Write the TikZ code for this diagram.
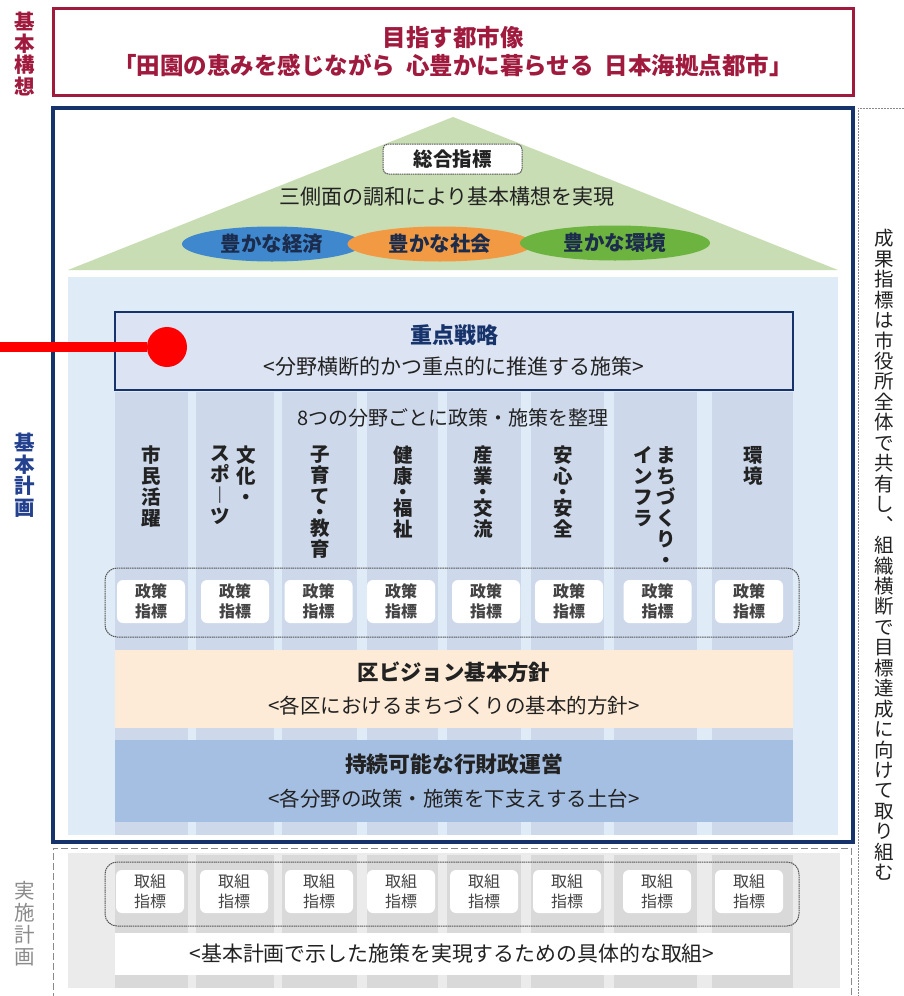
\documentclass[tikz,border=0pt]{standalone}
\usepackage{fontspec}
\setmainfont{Noto Sans CJK JP}
\usetikzlibrary{shapes.geometric}
\definecolor{crimson}{HTML}{A01A3E}
\definecolor{navy}{HTML}{17336B}
\definecolor{planblue}{HTML}{23418F}
\definecolor{bodyblue}{HTML}{DFEBF7}
\definecolor{colblue}{HTML}{CDD9EB}
\definecolor{roofgreen}{HTML}{C8DDB3}
\definecolor{focusfill}{HTML}{DCE3F2}
\definecolor{peach}{HTML}{FDEBD7}
\definecolor{midblue}{HTML}{A5BFE3}
\definecolor{ecoblue}{HTML}{3F88CE}
\definecolor{socorange}{HTML}{F29A43}
\definecolor{envgreen}{HTML}{6DB33F}
\definecolor{txt}{HTML}{222222}
\definecolor{txtgray}{HTML}{444444}
\definecolor{graybg}{HTML}{EBEBEB}
\definecolor{graystripe}{HTML}{D9D9D9}
\definecolor{dashgray}{HTML}{555555}
\definecolor{lightdash}{HTML}{8A8A8A}
\definecolor{labelgray}{HTML}{8C8C8C}
\definecolor{ellipsetxt}{HTML}{1C2C4C}
\newcommand{\vdot}{\\[-5.2pt]・\\[-5.2pt]}
\tikzset{
  vlabel/.style={align=center, inner sep=0pt, anchor=north, text=txt,
    font=\bfseries\fontsize{19.5}{21}\selectfont},
  sidelabel/.style={align=center, inner sep=0pt,
    font=\bfseries\fontsize{20.5}{21.5}\selectfont},
  indbox/.style={fill=white, rounded corners=6pt, minimum width=68pt,
    minimum height=43pt, inner sep=0pt, align=center, text=txtgray,
    font=\bfseries\fontsize{16}{20}\selectfont},
  actbox/.style={indbox, font=\fontsize{16}{20}\selectfont, text=txtgray},
  groupbox/.style={draw=dashgray, line width=1pt, dash pattern=on 1.5pt off 0.7pt,
    rounded corners=12pt, minimum width=694pt, inner sep=0pt},
  band/.style={minimum width=678pt, inner sep=0pt, align=center, text=txt},
  pillar/.style={ellipse, inner sep=0pt, minimum height=35pt, text=ellipsetxt,
    font=\bfseries\fontsize{20.5}{22}\selectfont},
}
\begin{document}
\begin{tikzpicture}[x=1pt,y=-1pt]
\useasboundingbox (0,0) rectangle (904,996);
\fill[white] (0,0) rectangle (904,996);

% ---- side labels
\node[sidelabel, text=crimson] (lvision) at (25,54) {基\\本\\構\\想};
\node[sidelabel, text=planblue] (lplan) at (25,475) {基\\本\\計\\画};
\node[sidelabel, text=labelgray, font=\fontsize{20.5}{22}\selectfont] (limpl) at (25,924) {実\\施\\計\\画};

% ---- top vision box
\node[draw=crimson, line width=3pt, minimum width=800pt, minimum height=87pt,
  align=center, text=crimson, font=\bfseries\fontsize{23.5}{28}\selectfont] (vision) at (453,51.5)
  {目指す都市像\\「田園の恵みを感じながら\hspace{0.47em}心豊かに暮らせる\hspace{0.47em}日本海拠点都市」};

% ---- right dashed area
\draw[lightdash, line width=1pt, dash pattern=on 2pt off 1pt] (858,1000) -- (858,108) -- (910,108);
\node[align=center, inner sep=0pt, text=txt, font=\fontsize{19.5}{20.45}\selectfont] (rnote) at (884,555)
  {成\\果\\指\\標\\は\\市\\役\\所\\全\\体\\で\\共\\有\\し\\︑\\組\\織\\横\\断\\で\\目\\標\\達\\成\\に\\向\\け\\て\\取\\り\\組\\む};

% ---- roof
\fill[roofgreen] (68,270) -- (453,117) -- (838,270) -- cycle;
\node[draw=dashgray, line width=1pt, dash pattern=on 1.5pt off 0.7pt, rounded corners=5pt,
  fill=white, minimum width=139pt, minimum height=30pt, inner sep=0pt, text=txt,
  font=\bfseries\fontsize{19.5}{21}\selectfont] (overall) at (452.5,159) {総合指標};
\node[text=txt, inner sep=0pt, font=\fontsize{21}{23}\selectfont] (harmony) at (447,197) {三側面の調和により基本構想を実現};
\node[pillar, fill=ecoblue, minimum width=180pt] (econ) at (272,244) {豊かな経済};
\node[pillar, fill=socorange, minimum width=185pt] (soc) at (440,244) {豊かな社会};
\node[pillar, fill=envgreen, minimum width=190pt] (env) at (615,243) {豊かな環境};

% ---- body
\fill[bodyblue] (68,277) rectangle (838,835);
\foreach \a/\b in {115/188,196/274,282/357,367/438,447/521,531/604,614/697,712/793}
  \fill[colblue] (\a,392) rectangle (\b,835);

\node[draw=navy, line width=2.8pt, fill=focusfill, band, minimum height=78pt,
  font=\fontsize{21}{31}\selectfont] (focus) at (454,351)
  {{\bfseries\fontsize{22}{31}\selectfont\color{navy}重点戦略}\\<分野横断的かつ重点的に推進する施策>};

\node[text=txt, inner sep=0pt, font=\fontsize{20}{22}\selectfont] (eight) at (453,418) {8つの分野ごとに政策・施策を整理};

\node[vlabel] (c1) at (151,446) {市\\民\\活\\躍};
\node[vlabel] (c2a) at (246,446) {文\\化\\・};
\node[vlabel] (c2b) at (220,446) {ス\\ポ\\︱\\ツ};
\node[vlabel] (c3) at (320,446) {子\\育\\て\vdot 教\\育};
\node[vlabel] (c4) at (403,446) {健\\康\vdot 福\\祉};
\node[vlabel] (c5) at (483,446) {産\\業\vdot 交\\流};
\node[vlabel] (c6) at (563,446) {安\\心\vdot 安\\全};
\node[vlabel] (c7a) at (666,446) {ま\\ち\\づ\\く\\り\\・};
\node[vlabel] (c7b) at (643,446) {イ\\ン\\フ\\ラ};
\node[vlabel] (c8) at (753,446) {環\\境};

\node[groupbox, minimum height=69pt] (polgroup) at (452,602.5) {};
\foreach \x [count=\i] in {151,235,318.5,401,486,569,657.5,749}
  \node[indbox] (p\i) at (\x,601.5) {政策\\指標};

\node[band, fill=peach, minimum height=78pt, font=\fontsize{20.5}{33}\selectfont] (ward) at (454,689)
  {{\bfseries\fontsize{21.4}{33}\selectfont 区ビジョン基本方針}\\<各区におけるまちづくりの基本的方針>};
\node[band, fill=midblue, minimum height=82pt, font=\fontsize{20.5}{34}\selectfont] (fin) at (454,781)
  {{\bfseries\fontsize{21.8}{34}\selectfont 持続可能な行財政運営}\\<各分野の政策・施策を下支えする土台>};

\node[draw=navy, line width=3.5pt, minimum width=800pt, minimum height=734pt] (plan) at (453,475) {};

% ---- implementation plan
\fill[graybg] (68,853) rectangle (840,988);
\foreach \a/\b in {115/188,196/274,282/357,367/438,447/521,531/604,614/697,712/793}
  \fill[graystripe] (\a,855) rectangle (\b,988);
\draw[lightdash, line width=1pt, dash pattern=on 7pt off 3pt] (53,1000) -- (53,848) -- (851,848) -- (851,1000);
\node[groupbox, minimum height=64pt] (actgroup) at (452,894) {};
\foreach \x [count=\i] in {150,234,319,401,484,567,657,749}
  \node[actbox] (a\i) at (\x,891.5) {取組\\指標};
\node[fill=white, minimum width=675pt, minimum height=42pt, inner sep=0pt, text=txt,
  font=\fontsize{20.9}{22}\selectfont] (concrete) at (452,954) {<基本計画で示した施策を実現するための具体的な取組>};

% ---- red marker
\node[circle, fill=red, minimum size=40pt, inner sep=0pt] (dot) at (167,347) {};
\coordinate (redstart) at (0,347);
\draw[red, line width=10pt] (redstart) -- (dot);
\end{tikzpicture}
\end{document}
